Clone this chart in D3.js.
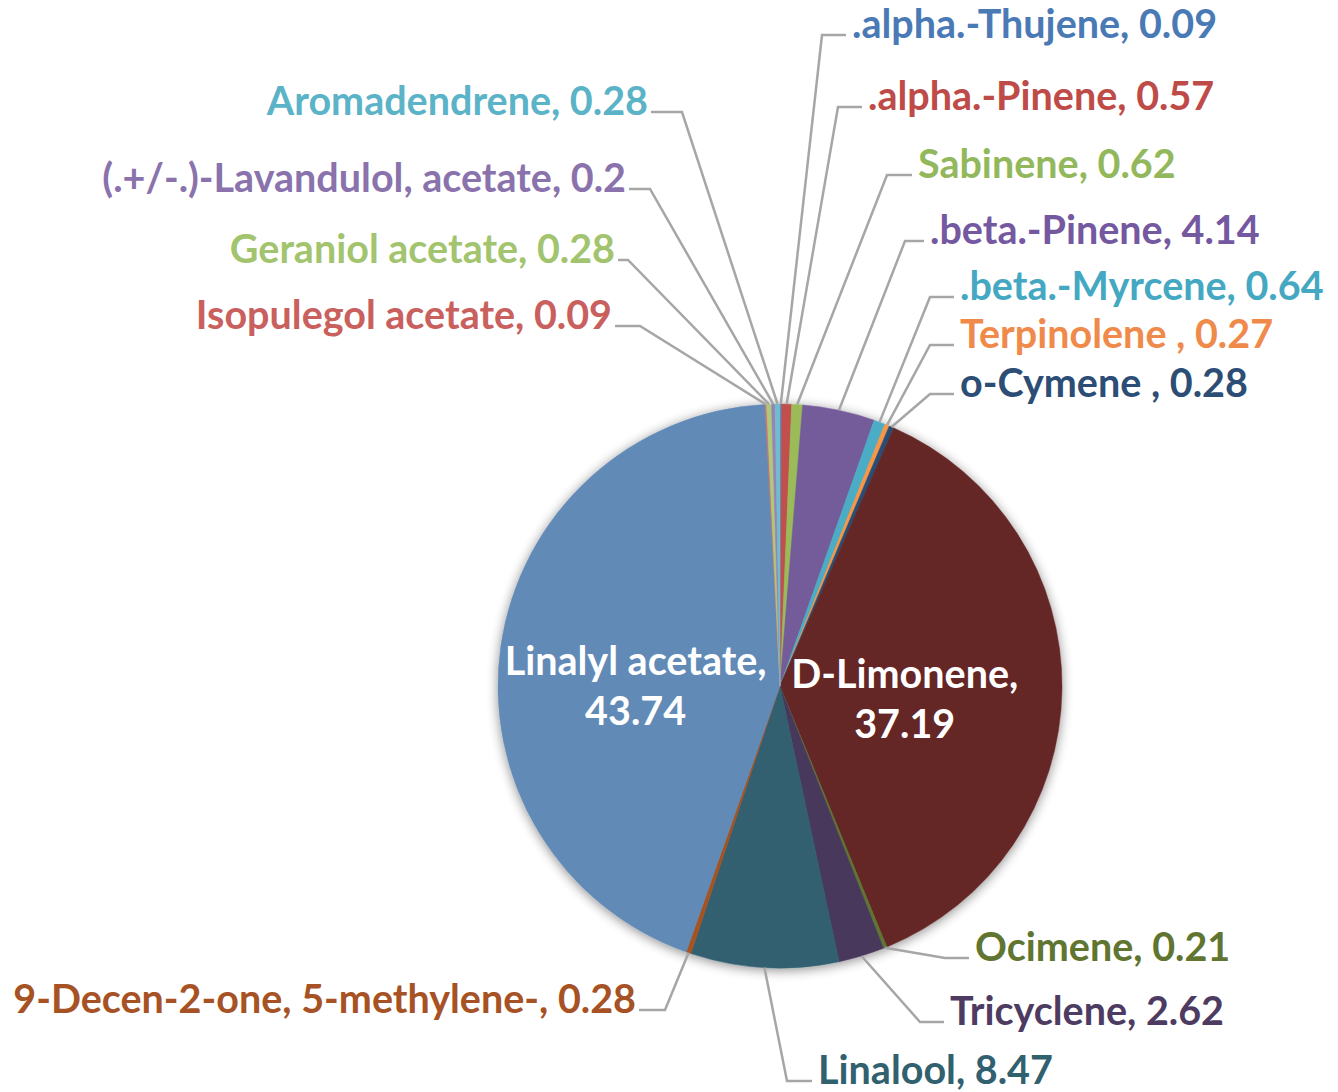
<!DOCTYPE html>
<html>
<head>
<meta charset="utf-8">
<script src="https://cdn.jsdelivr.net/npm/d3@7"></script>
<style>
body { margin: 0; background: #fff; }
#pie text { font-family: Lato, "Open Sans", sans-serif; font-weight: 700; }
</style>
</head>
<body>
<div id="pie"></div>
<script>
// compounds clockwise from 12 o'clock
var compounds = ['.alpha.-Thujene', '.alpha.-Pinene', 'Sabinene', '.beta.-Pinene',
    '.beta.-Myrcene', 'Terpinolene ', 'o-Cymene ', 'D-Limonene', 'Ocimene',
    'Tricyclene', 'Linalool', '9-Decen-2-one, 5-methylene-', 'Linalyl acetate',
    'Isopulegol acetate', 'Geraniol acetate', '(.+/-.)-Lavandulol, acetate', 'Aromadendrene'];
var percents = [0.09, 0.57, 0.62, 4.14, 0.64, 0.27, 0.28, 37.19, 0.21, 2.62, 8.47, 0.28,
    43.74, 0.09, 0.28, 0.2, 0.28];

var sliceColors = ['#4F81BD', '#C0504D', '#9BBB59', '#735C99', '#4BACC6', '#F79646', '#2C4D75',
    '#652726', '#5F7530', '#47385C', '#31606F', '#A65224', '#628AB7', '#CD7371', '#AFC97A',
    '#9983B5', '#6FBDD1'];
var labelColors = ['#4A7AB5', '#BE4B48', '#93B85C', '#7458A0', '#45A8C2', '#F08A4B', '#2C4D75',
    '#fff', '#5F7530', '#4D3B62', '#31606F', '#A65224', '#fff', '#C9605E', '#A3C46F',
    '#8A72AC', '#5BB3C8'];

var width = 1338, height = 1092;
var cx = 780, cy = 686, radius = 282;
var fontSize = 39.5;

// outside labels: elbow of leader, stub y, text edge, side
var labelSpots = {
    0: { ex: 822, ey: 35, tx: 852, side: 'r' },
    1: { ex: 838, ey: 107, tx: 868, side: 'r' },
    2: { ex: 887, ey: 175, tx: 918, side: 'r' },
    3: { ex: 905, ey: 241, tx: 930, side: 'r' },
    4: { ex: 930, ey: 297, tx: 960, side: 'r' },
    5: { ex: 930, ey: 345, tx: 960, side: 'r' },
    6: { ex: 930, ey: 394, tx: 960, side: 'r' },
    8: { ex: 945, ey: 958, tx: 975, side: 'r' },
    9: { ex: 920, ey: 1022, tx: 950, side: 'r' },
    10: { ex: 787, ey: 1081, tx: 818, side: 'r' },
    11: { ex: 665, ey: 1010, tx: 636, side: 'l' },
    13: { ex: 640, ey: 326, tx: 612, side: 'l' },
    14: { ex: 628, ey: 260, tx: 615, side: 'l' },
    15: { ex: 650, ey: 189, tx: 626, side: 'l' },
    16: { ex: 682, ey: 112, tx: 648, side: 'l' }
};
// labels drawn inside the two big slices
var insideSpots = {
    7: { dx: -5, dy: 12 },
    12: { dx: -16, dy: 19 }
};

var svg = d3.select('#pie').append('svg')
    .attr('width', width)
    .attr('height', height);

var defs = svg.append('defs');
var glow = defs.append('filter')
    .attr('id', 'glow')
    .attr('x', '-20%').attr('y', '-20%')
    .attr('width', '140%').attr('height', '140%');
glow.append('feGaussianBlur').attr('in', 'SourceAlpha').attr('stdDeviation', 6).attr('result', 'b');
glow.append('feOffset').attr('in', 'b').attr('dx', 0).attr('dy', 2).attr('result', 'o');
glow.append('feComponentTransfer').attr('in', 'o').attr('result', 's')
    .append('feFuncA').attr('type', 'linear').attr('slope', 0.45);
var merge = glow.append('feMerge');
merge.append('feMergeNode').attr('in', 's');
merge.append('feMergeNode').attr('in', 'SourceGraphic');

var data = compounds.map(function (c, i) {
    return { name: c, value: percents[i], idx: i };
});

var pie = d3.pie()
    .value(function (d) { return d.value; })
    .sort(null);
var arcs = pie(data);

var arc = d3.arc().innerRadius(0).outerRadius(radius);

var g = svg.append('g')
    .attr('transform', 'translate(' + cx + ',' + cy + ')');

g.append('g')
    .attr('filter', 'url(#glow)')
    .selectAll('path')
    .data(arcs)
    .enter().append('path')
    .attr('d', arc)
    .attr('fill', function (d) { return sliceColors[d.data.idx]; })
    .attr('stroke', function (d) { return sliceColors[d.data.idx]; })
    .attr('stroke-width', 0.5);

// leader lines
var outside = arcs.filter(function (d) { return labelSpots[d.data.idx]; });

g.selectAll('.leader')
    .data(outside)
    .enter().append('polyline')
    .attr('class', 'leader')
    .attr('fill', 'none')
    .attr('stroke', '#A6A6A6')
    .attr('stroke-width', 2.5)
    .attr('points', function (d) {
        var s = labelSpots[d.data.idx];
        var a = (d.startAngle + d.endAngle) / 2;
        var p0 = [radius * Math.sin(a), -radius * Math.cos(a)];
        var stubEnd = s.side === 'r' ? s.tx - 6 : s.tx + 3;
        return [p0, [s.ex - cx, s.ey - cy], [stubEnd - cx, s.ey - cy]]
            .map(function (p) { return p.join(','); }).join(' ');
    });

g.selectAll('.outlabel')
    .data(outside)
    .enter().append('text')
    .attr('class', 'outlabel')
    .attr('x', function (d) { return labelSpots[d.data.idx].tx - cx; })
    .attr('y', function (d) { return labelSpots[d.data.idx].ey - cy + 3; })
    .attr('text-anchor', function (d) { return labelSpots[d.data.idx].side === 'r' ? 'start' : 'end'; })
    .attr('font-size', fontSize)
    .attr('fill', function (d) { return labelColors[d.data.idx]; })
    .text(function (d) { return d.data.name + ', ' + d.data.value; });

var labelArc = d3.arc().innerRadius(radius * 0.46).outerRadius(radius * 0.46);

var inside = g.selectAll('.inlabel')
    .data(arcs.filter(function (d) { return insideSpots[d.data.idx]; }))
    .enter().append('text')
    .attr('class', 'inlabel')
    .attr('text-anchor', 'middle')
    .attr('font-size', fontSize)
    .attr('fill', function (d) { return labelColors[d.data.idx]; })
    .attr('transform', function (d) {
        var c = labelArc.centroid(d);
        var n = insideSpots[d.data.idx];
        return 'translate(' + (c[0] + n.dx) + ',' + (c[1] + n.dy) + ')';
    });

inside.append('tspan')
    .attr('x', 0)
    .attr('dy', -12)
    .text(function (d) { return d.data.name + ','; });
inside.append('tspan')
    .attr('x', 0)
    .attr('dy', 50)
    .text(function (d) { return d.data.value; });
</script>
</body>
</html>
